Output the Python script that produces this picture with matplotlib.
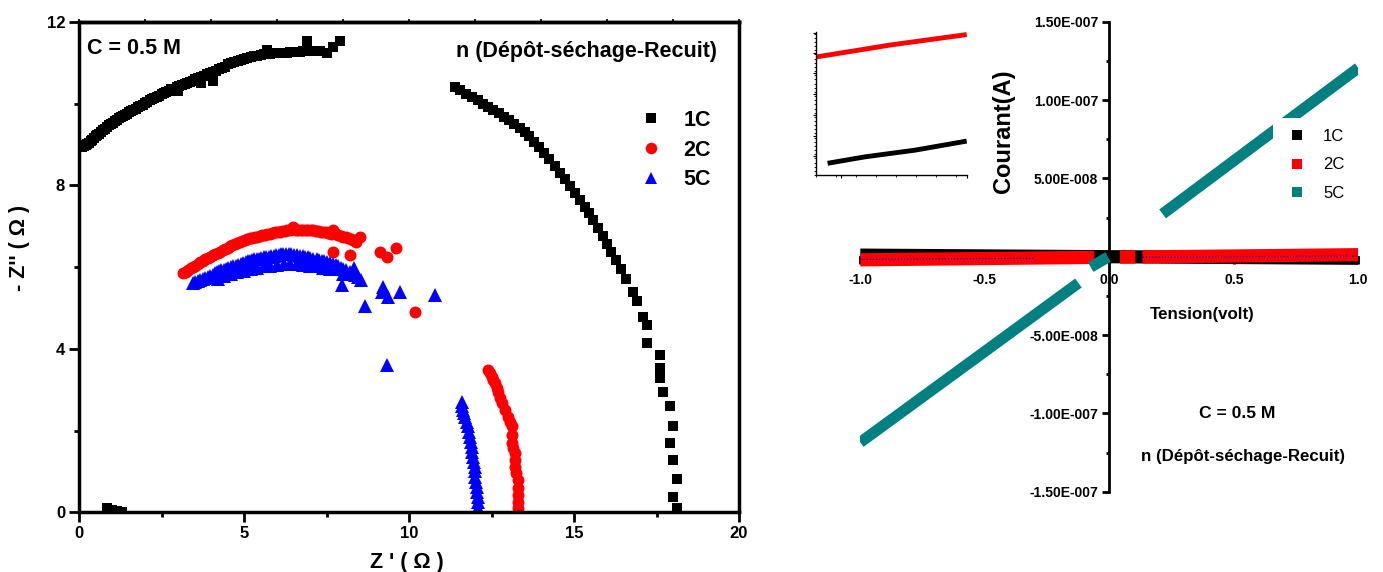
import numpy as np
import matplotlib
matplotlib.use("Agg")
import matplotlib.pyplot as plt
from matplotlib import font_manager as fm
from matplotlib.lines import Line2D
from matplotlib.ticker import MultipleLocator

# ---------------- data: Nyquist (left) ----------------
z1c_re = [0.10, 0.20, 0.30, 0.40, 0.50, 0.60, 0.72, 0.84, 0.96, 1.08, 1.20, 1.33, 1.46, 1.59,
          1.72, 1.86, 2.00, 2.14, 2.28, 2.43, 2.58, 2.73, 2.88, 3.00, 3.04, 3.20, 3.36, 3.52,
          3.70, 3.71, 3.88, 4.06, 4.07, 4.24, 4.43, 4.62, 4.81, 5.00, 5.20, 5.40, 5.60, 5.69,
          5.80, 6.00, 6.20, 6.40, 6.60, 6.80, 6.90, 7.00, 7.30, 7.50, 7.90,
          0.15, 0.25, 0.35, 0.45, 0.55, 0.66, 0.78, 0.90, 1.02, 1.14, 1.26, 1.40, 1.52, 1.65,
          1.79, 1.93, 2.07, 2.21, 2.35, 2.50, 2.65, 2.80, 2.96, 3.12, 3.28, 3.44, 3.61, 3.79,
          3.97, 4.15, 4.33, 4.52, 4.71, 4.90, 5.10, 5.30, 5.50, 5.70, 5.90, 6.10, 6.30, 6.50,
          6.70, 7.15, 7.70,
          11.39, 11.55, 11.72, 11.90, 12.08, 12.25, 12.40, 12.56, 12.72, 12.88, 13.03, 13.18,
          13.35, 13.50, 13.65, 13.80, 13.95, 14.10, 14.25, 14.42, 14.58, 14.72, 14.88, 15.03,
          15.18, 15.32, 15.46, 15.59, 15.73, 15.87, 16.00, 16.13, 16.27, 16.42, 16.59, 16.79,
          16.90, 17.10, 17.20, 17.20, 17.60, 17.60, 17.60, 17.70, 17.91, 18.01, 17.91, 18.01,
          18.11, 18.01, 18.11,
          0.85, 1.00, 1.15, 1.30]
z1c_im = [8.95, 8.98, 9.05, 9.12, 9.20, 9.27, 9.35, 9.43, 9.51, 9.58, 9.64, 9.70, 9.76, 9.83,
          9.88, 9.95, 10.02, 10.08, 10.14, 10.20, 10.27, 10.32, 10.37, 10.30, 10.43, 10.48, 10.53, 10.60,
          10.66, 10.51, 10.72, 10.78, 10.55, 10.84, 10.90, 11.00, 11.05, 11.10, 11.14, 11.18, 11.21, 11.32,
          11.22, 11.24, 11.25, 11.26, 11.27, 11.28, 11.53, 11.30, 11.30, 11.24, 11.53,
          8.97, 9.01, 9.08, 9.16, 9.23, 9.31, 9.39, 9.47, 9.54, 9.61, 9.67, 9.73, 9.79, 9.85,
          9.92, 9.98, 10.05, 10.11, 10.17, 10.23, 10.29, 10.35, 10.40, 10.45, 10.51, 10.56, 10.63, 10.69,
          10.75, 10.81, 10.87, 10.97, 11.02, 11.07, 11.12, 11.16, 11.19, 11.21, 11.23, 11.24, 11.25, 11.26,
          11.27, 11.30, 11.40,
          10.41, 10.33, 10.25, 10.16, 10.08, 10.00, 9.93, 9.85, 9.77, 9.68, 9.60, 9.50,
          9.40, 9.31, 9.20, 9.07, 8.93, 8.80, 8.65, 8.48, 8.30, 8.15, 7.98, 7.82,
          7.65, 7.48, 7.32, 7.16, 6.96, 6.76, 6.56, 6.38, 6.17, 5.96, 5.72, 5.40,
          5.16, 4.79, 4.59, 4.14, 3.85, 3.53, 3.28, 2.95, 2.59, 2.10, 1.69, 1.28,
          0.82, 0.38, 0.10,
          0.10, 0.06, 0.03, 0.01]

z2c_re = [3.16, 3.30, 3.45, 3.60, 3.75, 3.90, 4.05, 4.20, 4.35, 4.50, 4.65, 4.80, 4.95, 5.10,
          5.25, 5.40, 5.55, 5.70, 5.85, 6.00, 6.15, 6.30, 6.49, 6.65, 6.80, 6.95, 7.10, 7.25,
          7.40, 7.55, 7.70, 7.85, 8.00, 8.15, 8.30, 8.52, 8.20, 7.70, 9.12, 9.32, 9.62, 10.18,
          3.23, 3.38, 3.52, 3.68, 3.83, 3.98, 4.13, 4.28, 4.43, 4.58, 4.73, 4.88, 5.03, 5.18,
          5.33, 5.48, 5.63, 5.78, 5.93, 6.08, 6.23, 6.40, 6.57, 6.72, 6.88, 7.03, 7.18, 7.33,
          7.48, 7.63, 7.78, 7.93, 8.08, 8.23, 8.40,
          12.40, 12.45, 12.50, 12.55, 12.61, 12.66, 12.71, 12.76, 12.81, 12.90, 13.01, 13.06,
          13.11, 13.11, 13.11, 13.15, 13.21, 13.21, 13.21, 13.25, 13.31, 13.31, 13.31, 13.31, 13.31]
z2c_im = [5.85, 5.93, 6.00, 6.08, 6.15, 6.22, 6.29, 6.35, 6.42, 6.48, 6.54, 6.60, 6.65, 6.69,
          6.72, 6.75, 6.78, 6.80, 6.83, 6.86, 6.88, 6.90, 6.99, 6.92, 6.92, 6.91, 6.90, 6.88,
          6.86, 6.84, 6.91, 6.79, 6.75, 6.71, 6.66, 6.75, 6.30, 6.38, 6.38, 6.26, 6.47, 4.91,
          5.89, 5.97, 6.04, 6.12, 6.19, 6.26, 6.32, 6.38, 6.45, 6.51, 6.57, 6.62, 6.67, 6.71,
          6.74, 6.77, 6.79, 6.82, 6.85, 6.87, 6.89, 6.91, 6.92, 6.92, 6.92, 6.91, 6.89, 6.87,
          6.85, 6.82, 6.80, 6.77, 6.73, 6.68, 6.62,
          3.49, 3.40, 3.32, 3.24, 3.16, 3.05, 2.95, 2.80, 2.67, 2.50, 2.34, 2.22,
          2.10, 1.90, 1.69, 1.57, 1.44, 1.28, 1.12, 0.95, 0.79, 0.60, 0.42, 0.25, 0.10]

z5c_re = [3.46, 3.60, 3.75, 3.90, 4.05, 4.17, 4.30, 4.45, 4.60, 4.75, 4.90, 5.05, 5.18, 5.30,
          5.45, 5.60, 5.75, 5.90, 6.05, 6.19, 6.35, 6.50, 6.70, 6.85, 7.00, 7.20, 7.35, 7.50,
          7.70, 7.85, 8.00, 8.21, 8.35, 8.56,
          3.53, 3.68, 3.83, 3.98, 4.11, 4.24, 4.38, 4.53, 4.68, 4.83, 4.98, 5.12, 5.24, 5.38,
          5.53, 5.68, 5.83, 5.98, 6.12, 6.27, 6.42, 6.60, 6.78, 6.93, 7.10, 7.28, 7.43, 7.60,
          7.78, 7.93, 8.10, 8.28, 8.45,
          4.20, 4.40, 4.60, 4.80, 5.00, 5.20, 5.40, 5.60, 5.80, 6.00, 6.20, 6.40, 6.60, 6.80,
          7.00, 7.20, 7.40, 7.60, 8.00,
          7.96, 8.33, 8.67, 9.17, 9.22, 9.37, 9.32, 9.73, 10.79,
          11.60, 11.62, 11.65, 11.68, 11.70, 11.75, 11.80, 11.82, 11.85, 11.88, 11.90, 11.92,
          11.95, 11.97, 12.00, 12.00, 12.00, 12.02, 12.05, 12.07, 12.10, 12.10, 12.10]
z5c_im = [5.61, 5.65, 5.70, 5.76, 5.82, 5.87, 5.92, 5.96, 6.00, 6.04, 6.08, 6.13, 6.16, 6.19,
          6.21, 6.24, 6.26, 6.28, 6.30, 6.32, 6.31, 6.30, 6.28, 6.25, 6.23, 6.20, 6.16, 6.12,
          6.08, 6.02, 5.96, 5.88, 5.80, 5.69,
          5.63, 5.68, 5.73, 5.79, 5.85, 5.90, 5.94, 5.98, 6.02, 6.06, 6.10, 6.15, 6.18, 6.20,
          6.23, 6.25, 6.27, 6.29, 6.31, 6.32, 6.31, 6.29, 6.27, 6.24, 6.21, 6.18, 6.14, 6.10,
          6.05, 5.99, 5.92, 5.84, 5.75,
          5.72, 5.78, 5.83, 5.87, 5.91, 5.95, 5.99, 6.02, 6.04, 6.06, 6.08, 6.08, 6.07, 6.06,
          6.04, 6.02, 5.99, 5.95, 5.84,
          5.57, 5.98, 5.04, 5.40, 5.52, 5.28, 3.61, 5.40, 5.32,
          2.71, 2.61, 2.51, 2.42, 2.34, 2.22, 2.10, 1.97, 1.85, 1.73, 1.61, 1.48,
          1.36, 1.24, 1.12, 1.00, 0.87, 0.75, 0.63, 0.50, 0.38, 0.24, 0.10]

nyq_xticks = [0, 5, 10, 15, 20]
nyq_yticks = [0, 4, 8, 12]

# ---------------- data: I-V (right) ----------------
iv_1c_v = [-1.0, 1.0]
iv_1c_i = [0.10e-8, -0.10e-8]
iv_2c_v = [-1.0, -0.06, np.nan, 0.043, 0.105, np.nan, 0.133, 1.0]
iv_2c_i = [-0.20e-8, -0.045e-8, np.nan, -0.028e-8, -0.018e-8, np.nan, -0.013e-8, 0.13e-8]
iv_5c_v = [-1.0, -0.5, -0.124, np.nan, -0.075, -0.005, np.nan, 0.214, 0.6, 1.0]
iv_5c_i = [-1.185e-7, -6.05e-8, -1.68e-8, np.nan, -0.66e-8, -0.02e-8, np.nan, 2.73e-8, 7.31e-8, 1.205e-7]
iv_dot_v = [-1.0, -0.3, np.nan, 0.135, 1.0]
iv_dot_i = [-0.17e-8, -0.10e-8, np.nan, -0.03e-8, 0.04e-8]

iv_xticks = [-1.0, -0.5, 0.0, 0.5, 1.0]
iv_xticklabels = ["-1.0", "-0.5", "0.0", "0.5", "1.0"]
iv_yticks = [-1.5e-7, -1.0e-7, -5.0e-8, 0.0, 5.0e-8, 1.0e-7, 1.5e-7]
iv_yticklabels = ["-1.50E-007", "-1.00E-007", "-5.00E-008", "0.00E+000",
                  "5.00E-008", "1.00E-007", "1.50E-007"]

# inset (unlabelled zoom of 1C / 2C)
ins_2c_v = [0.0, 0.49, 1.0]
ins_2c_i = [2.47, 2.72, 2.94]
ins_1c_v = [0.077, 0.325, 0.657, 1.0]
ins_1c_i = [0.245, 0.38, 0.52, 0.71]
ins_yticks = [0.40, 0.82, 1.26, 1.69, 2.13, 2.55, 2.98]

labels = ["1C", "2C", "5C"]

# ---------------- fonts ----------------
names = {f.name for f in fm.fontManager.ttflist}
if "Liberation Sans Narrow" in names:
    NARROW, NS = "Liberation Sans Narrow", 1.0
else:
    NARROW, NS = "Liberation Sans", 0.84

plt.rcParams["font.family"] = ["Liberation Sans", "DejaVu Sans"]
plt.rcParams["font.weight"] = "bold"

W, H = 1383, 572
fig = plt.figure(figsize=(W / 100, H / 100), dpi=100)

def fx(px):
    return px / W

def fy(py):
    return 1 - py / H

# ================= left: Nyquist =================
ax1 = fig.add_axes([fx(79), fy(512.3), (739 - 79) / W, (512.3 - 22) / H])
ax1.plot(z1c_re, z1c_im, ls="none", marker="s", ms=7.6, color="black", mew=0)
ax1.plot(z2c_re, z2c_im, ls="none", marker="o", ms=8.6, color="#ff0000", mew=0)
ax1.plot(z5c_re, z5c_im, ls="none", marker="^", ms=9.5, color="#0000ff", mew=0)
ax1.set_xlim(0, 20)
ax1.set_ylim(0, 12)
ax1.set_xticks(nyq_xticks)
ax1.set_yticks(nyq_yticks)
ax1.xaxis.set_minor_locator(MultipleLocator(2.5))
ax1.yaxis.set_minor_locator(MultipleLocator(2))
ax1.tick_params(which="major", direction="out", length=7, width=2, labelsize=12, pad=3)
ax1.tick_params(which="minor", direction="out", length=3.5, width=2)
for s in ax1.spines.values():
    s.set_linewidth(2.5)
sec = ax1.secondary_xaxis("top")
sec.set_xticks(list(range(0, 21, 2)))
sec.tick_params(direction="out", length=2.5, width=1.2, labeltop=False)
sec.spines["top"].set_linewidth(2.5)

leg1_handles = [Line2D([], [], ls="none", marker=m, ms=s, color=c, mew=0)
                for m, s, c in (("s", 7.2, "black"), ("o", 8.3, "#ff0000"), ("^", 9, "#0000ff"))]
ax1.legend(leg1_handles, labels, loc="upper left", bbox_to_anchor=(fx(629), fy(110)),
           bbox_transform=fig.transFigure, frameon=False, numpoints=1,
           handlelength=2.0, handletextpad=0.52, labelspacing=0.40, borderpad=0,
           borderaxespad=0, prop={"weight": "bold", "size": 15.5})

fig.text(fx(87.3), fy(54), "C = 0.5 M", ha="left", va="baseline", fontsize=15.5, weight="bold")
fig.text(fx(717.3), fy(57.3), "n (Dépôt-séchage-Recuit)", ha="right", va="baseline",
         fontsize=15.5, weight="bold")
fig.text(fx(407), fy(568), "Z ' ( Ω )", ha="center", va="baseline", fontsize=15.5, weight="bold")
fig.text(fx(20), fy(248), "- Z'' ( Ω )", ha="center", va="center", rotation=90,
         fontsize=15.5, weight="bold")

# ================= right: I-V =================
ax2 = fig.add_axes([fx(860.3), fy(491.7), 498 / W, 470 / H])
ax2.plot(iv_1c_v, iv_1c_i, color="black", lw=9.5, solid_capstyle="butt", zorder=3)
ax2.plot(iv_2c_v, iv_2c_i, color="#ff0000", lw=9.5, solid_capstyle="butt", zorder=3.1)
ax2.plot(iv_5c_v, iv_5c_i, color="#008080", lw=8, solid_capstyle="butt", zorder=3.2)
ax2.plot(iv_dot_v, iv_dot_i, color="#0000ff", lw=0.9, ls=(0, (1, 1.5)), zorder=3.3)
ax2.set_xlim(-1, 1)
ax2.set_ylim(-1.5e-7, 1.5e-7)
ax2.spines["left"].set_position(("data", 0))
ax2.spines["bottom"].set_position(("data", 0))
ax2.spines["top"].set_visible(False)
ax2.spines["right"].set_visible(False)
for k in ("left", "bottom"):
    ax2.spines[k].set_linewidth(2)
narrow_tick = fm.FontProperties(family=NARROW, weight="bold", size=12 * NS)
ax2.set_xticks(iv_xticks)
ax2.set_xticklabels(iv_xticklabels, fontproperties=narrow_tick)
ax2.set_yticks(iv_yticks)
ax2.set_yticklabels(iv_yticklabels, fontproperties=narrow_tick)
ax2.yaxis.set_minor_locator(MultipleLocator(2.5e-8))
ax2.tick_params(axis="x", which="major", direction="out", length=5, width=2, pad=7)
ax2.tick_params(axis="y", which="major", direction="out", length=5, width=2, pad=3)
ax2.tick_params(axis="y", which="minor", direction="out", length=2.5, width=2)

colors = ["black", "#ff0000", "#008080"]
hs = [Line2D([], [], ls="none", marker="s", ms=6.5, color=c, mew=0) for c in colors]
leg2 = ax2.legend(hs, labels, loc="upper left", bbox_to_anchor=(fx(1273), fy(118.3)),
                  bbox_transform=fig.transFigure, frameon=True, facecolor="white",
                  edgecolor="none", framealpha=1, fancybox=False, borderpad=0.64,
                  handlelength=1.6, handletextpad=0.76, labelspacing=0.81, borderaxespad=0,
                  prop={"family": "Liberation Sans", "weight": "normal", "size": 12})
leg2.set_zorder(6)

fig.text(fx(1003), fy(131), "Courant(A)", ha="center", va="center", rotation=90,
         fontsize=17, weight="bold")
fig.text(fx(1202), fy(314), "Tension(volt)", ha="center", va="center",
         fontproperties=fm.FontProperties(family=NARROW, weight="bold", size=14.5 * NS))
fig.text(fx(1237), fy(413), "C = 0.5 M", ha="center", va="center",
         fontproperties=fm.FontProperties(family=NARROW, weight="bold", size=15 * NS))
fig.text(fx(1243), fy(456), "n (Dépôt-séchage-Recuit)", ha="center", va="center",
         fontproperties=fm.FontProperties(family=NARROW, weight="bold", size=14.5 * NS))

# ================= inset =================
ax3 = fig.add_axes([fx(816), fy(175), 150.7 / W, 143.3 / H])
ax3.plot(ins_2c_v, ins_2c_i, color="#ff0000", lw=3.5, solid_capstyle="butt")
ax3.plot(ins_1c_v, ins_1c_i, color="black", lw=3.5, solid_capstyle="butt")
ax3.set_xlim(0, 1)
ax3.set_ylim(0, 3)
ax3.spines["top"].set_visible(False)
ax3.spines["right"].set_visible(False)
for k in ("left", "bottom"):
    ax3.spines[k].set_linewidth(1)
ax3.set_yticks(ins_yticks)
ax3.set_xticks([0.167, 1.0])
ax3.xaxis.set_minor_locator(MultipleLocator(0.133))
ax3.yaxis.set_minor_locator(MultipleLocator(0.087))
ax3.tick_params(which="major", direction="out", length=2.5, width=0.8, labelleft=False, labelbottom=False)
ax3.tick_params(which="minor", direction="out", length=1.2, width=0.6)

fig.savefig("out.png", dpi=100)
